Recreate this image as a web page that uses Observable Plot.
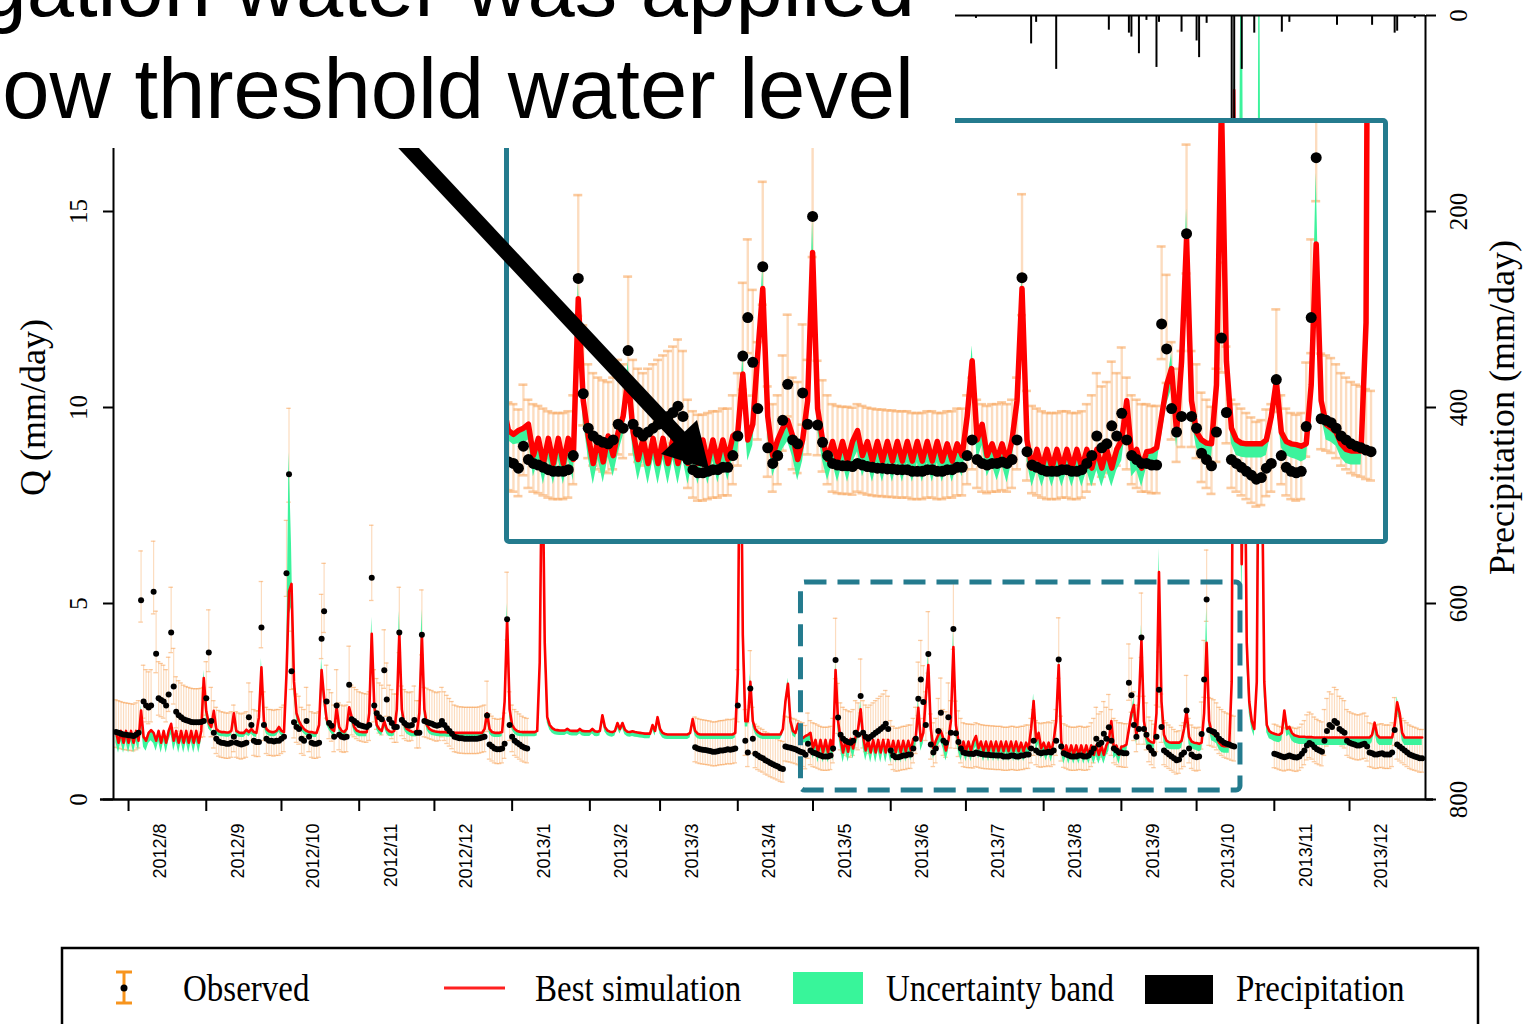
<!DOCTYPE html>
<html><head><meta charset="utf-8">
<script src="https://cdn.jsdelivr.net/npm/d3@7"></script>
<script src="https://cdn.jsdelivr.net/npm/@observablehq/plot@0.6"></script>
<style>
body{margin:0;width:1526px;height:1024px;overflow:hidden;position:relative;background:#fff}
#main{position:absolute;left:0;top:0}
#inset{position:absolute;left:504px;top:118px;width:884px;height:426px;border:5px solid #247b8e;border-radius:5px;box-sizing:border-box;background:#fff;overflow:hidden}
#inset svg{display:block}
.ov{position:absolute;left:0;top:0;overflow:visible}
#cover{position:absolute;left:0;top:0;width:955px;height:148px;background:#fff;overflow:hidden}
</style></head><body>
<div id="main"></div>
<div id="inset"></div>
<svg class="ov" width="1526" height="1024">
  <line x1="388" y1="126" x2="684" y2="442" stroke="#000" stroke-width="15"/>
  <polygon points="709,469 661,454 697,420" fill="#000"/>
</svg>
<div id="cover">
  <svg width="955" height="148">
    <text x="915" y="16" text-anchor="end" font-family="Liberation Sans, Arial, sans-serif" font-size="85" fill="#000">gation water was applied</text>
    <text x="914" y="118" text-anchor="end" font-family="Liberation Sans, Arial, sans-serif" font-size="85" fill="#000">ow threshold water level</text>
  </svg>
</div>
<svg class="ov" style="top:930px" width="1526" height="94">
  <rect x="62" y="18" width="1416" height="130" fill="#fff" stroke="#000" stroke-width="2.5"/>
  <g stroke="#f7941d" stroke-width="3">
    <line x1="124" y1="42" x2="124" y2="73"/><line x1="116" y1="42" x2="132" y2="42"/><line x1="116" y1="73" x2="132" y2="73"/>
  </g>
  <circle cx="124" cy="58" r="3.5" fill="#000"/>
  <line x1="444" y1="58" x2="505" y2="58" stroke="#ff2020" stroke-width="3"/>
  <rect x="793" y="42" width="70" height="32" fill="#38f59a"/>
  <rect x="1145" y="45" width="68" height="29" fill="#000"/>
  <g font-family="Liberation Serif, Times New Roman, serif" font-size="33" fill="#000">
    <text transform="translate(183,71) scale(1,1.18)">Observed</text>
    <text transform="translate(535,71) scale(1,1.18)">Best simulation</text>
    <text transform="translate(886,71) scale(1,1.18)">Uncertainty band</text>
    <text transform="translate(1236,71) scale(1,1.18)">Precipitation</text>
  </g>
</svg>
<script>
// ---------------- DATA (daily, starting 2012-07-27) ----------------
const startDate = "2012-07-27";

// Best simulation Q (mm/day)
const simulated = [
1.72,1.45,1.75,1.45,1.75,
1.45,1.75,1.45,1.75,1.5,2.27,1.6,1.5,1.7,1.77,1.7,1.5,1.75,1.45,1.75,1.45,1.75,1.93,1.5,1.75,1.45,1.75,1.45,1.75,1.45,1.75,1.45,1.75,1.45,1.75,3.1,
2.25,1.95,1.85,2.26,1.8,1.74,1.72,1.72,1.71,1.71,1.75,2.2,1.75,1.71,1.7,1.7,1.78,1.72,1.8,1.72,1.7,2.1,3.37,2.0,1.8,1.74,1.72,1.72,1.75,1.85,
1.75,1.72,3.2,5.3,5.5,3.0,2.2,2.0,1.88,1.8,1.75,1.72,1.72,1.7,1.7,1.9,3.3,2.6,2.05,1.9,1.8,1.75,2.35,1.85,1.75,1.72,1.8,2.35,2.1,1.85,1.76,
1.73,1.72,1.72,1.72,2.2,4.23,2.4,1.9,1.8,1.75,2.0,1.8,1.74,1.72,1.75,2.3,4.25,2.3,1.9,1.8,1.76,1.73,1.72,1.72,2.2,4.2,2.3,1.9,1.8,1.76,
1.74,1.73,1.72,1.72,1.72,1.71,1.71,1.71,1.7,1.7,1.7,1.7,1.7,1.7,1.7,1.7,1.7,1.7,1.7,1.7,1.8,2.2,1.8,1.72,1.7,1.7,1.7,1.72,2.5,4.6,2.3,
1.9,1.8,1.75,1.73,1.72,1.72,1.72,1.72,1.72,1.72,1.75,3.5,9.5,4.0,2.1,1.9,1.82,1.78,1.77,1.76,1.76,1.76,1.8,1.76,1.75,1.75,1.75,1.8,1.75,1.74,1.74,
1.74,1.8,1.74,1.73,1.75,2.15,1.85,1.76,1.73,1.72,1.75,1.95,1.8,1.95,1.78,1.73,1.72,1.74,1.72,1.71,1.7,1.69,1.68,1.68,1.68,1.9,1.75,2.1,
1.8,1.7,1.67,1.66,1.66,1.66,1.66,1.66,1.66,1.66,1.66,1.66,1.7,2.05,1.75,1.68,1.66,1.66,1.66,1.66,1.66,1.66,1.66,1.66,1.66,1.66,1.66,1.66,1.66,1.66,1.7,
3.2,11.5,4.2,2.0,2.0,3.0,2.0,1.8,1.72,1.68,1.66,1.66,1.66,1.66,1.66,1.66,1.66,1.66,1.8,2.5,2.95,2.0,1.75,1.7,1.93,1.62,1.57,1.62,1.65,1.7,
1.3,1.52,1.2,1.52,1.2,1.52,1.2,1.52,1.25,3.3,2.0,1.55,1.2,1.52,1.22,1.55,1.3,1.6,1.8,2.3,1.6,1.25,1.52,1.2,1.52,1.2,1.52,1.2,1.52,1.2,1.52,
1.2,1.5,1.2,1.5,1.2,1.5,1.22,1.5,1.25,1.55,1.6,2.34,1.5,1.7,2.6,3.43,1.8,1.3,1.5,1.65,1.75,1.55,1.25,1.5,2.0,3.89,1.9,1.5,1.25,1.48,
1.23,1.48,1.23,1.48,1.62,1.3,1.48,1.23,1.48,1.23,1.48,1.23,1.48,1.23,1.48,1.23,1.48,1.23,1.48,1.23,1.48,1.23,1.45,1.23,1.45,1.3,1.8,2.51,1.5,1.7,1.3,
1.45,1.25,1.45,1.22,1.5,2.0,3.43,1.5,1.14,1.38,1.14,1.38,1.14,1.38,1.14,1.38,1.14,1.38,1.14,1.38,1.14,1.38,1.14,1.38,1.14,1.38,1.5,2.0,1.3,1.38,1.14,
1.35,1.36,1.4,1.8,2.2,2.41,1.6,2.5,4.07,2.0,1.6,1.5,1.46,1.45,2.2,5.8,2.5,1.65,1.5,1.46,1.45,1.45,1.45,1.45,1.5,1.8,2.25,1.6,1.48,1.45,
1.44,1.42,1.45,2.2,4.0,2.0,1.7,1.65,1.6,1.45,1.38,1.36,1.36,1.36,3.0,18.1,9,14,6,11,4,2.5,2.0,1.8,3.0,12,9,3.0,1.9,1.75,1.7,
1.68,1.66,1.65,1.7,2.27,1.8,1.85,1.7,1.64,1.62,1.6,1.6,1.6,1.59,1.59,1.59,1.58,1.58,1.58,1.58,1.58,1.58,1.58,1.58,1.58,1.58,1.58,1.58,1.58,1.58,
1.58,1.58,1.58,1.58,1.58,1.58,1.58,1.58,1.58,1.65,1.96,1.65,1.58,1.58,1.58,1.58,1.58,1.58,1.9,2.48,2.2,1.7,1.58,1.58,1.58,1.58,1.58,1.58,1.58,1.58
];

// Lower edge of the uncertainty band
const bandLower = [
1.45,1.18,1.48,1.18,1.48,
1.18,1.48,1.18,1.48,1.23,1.9,1.33,1.23,1.43,1.5,1.43,1.23,1.48,1.18,1.48,1.18,1.48,1.66,1.23,1.48,1.18,1.48,1.18,1.48,1.18,1.48,1.18,1.48,1.18,1.48,2.8,
2.05,1.8,1.72,2.05,1.67,1.62,1.6,1.6,1.59,1.59,1.62,2.0,1.62,1.59,1.58,1.58,1.65,1.6,1.67,1.6,1.58,1.95,3.0,1.85,1.67,1.62,1.6,1.6,1.62,1.72,
1.62,1.6,2.9,4.7,4.9,2.7,2.05,1.87,1.75,1.68,1.62,1.6,1.6,1.58,1.58,1.77,3.0,2.4,1.9,1.77,1.67,1.62,2.15,1.72,1.62,1.6,1.67,2.15,1.95,1.72,1.63,
1.6,1.6,1.6,1.6,2.02,3.85,2.2,1.77,1.67,1.62,1.85,1.67,1.61,1.6,1.62,2.1,3.9,2.1,1.77,1.67,1.63,1.6,1.6,1.6,2.02,3.85,2.1,1.77,1.67,1.63,
1.62,1.61,1.6,1.6,1.6,1.59,1.59,1.59,1.58,1.58,1.58,1.58,1.58,1.58,1.58,1.58,1.58,1.58,1.58,1.58,1.67,2.02,1.67,1.6,1.58,1.58,1.58,1.6,2.3,4.2,2.1,
1.77,1.67,1.62,1.61,1.6,1.6,1.6,1.6,1.6,1.6,1.62,3.2,8.5,3.7,1.95,1.77,1.69,1.65,1.64,1.63,1.63,1.63,1.67,1.63,1.62,1.62,1.62,1.67,1.62,1.61,1.61,
1.61,1.67,1.61,1.6,1.62,2.0,1.72,1.63,1.6,1.59,1.62,1.82,1.67,1.82,1.65,1.6,1.59,1.61,1.59,1.58,1.57,1.56,1.55,1.55,1.55,1.77,1.62,1.95,
1.67,1.57,1.54,1.53,1.53,1.53,1.53,1.53,1.53,1.53,1.53,1.53,1.57,1.9,1.62,1.55,1.53,1.53,1.53,1.53,1.53,1.53,1.53,1.53,1.53,1.53,1.53,1.53,1.53,1.53,1.57,
2.9,10,3.8,1.85,1.85,2.75,1.85,1.67,1.59,1.55,1.53,1.53,1.53,1.53,1.53,1.53,1.53,1.53,1.67,2.3,2.75,1.85,1.62,1.57,1.8,1.49,1.44,1.45,1.45,1.5,
1.03,1.25,0.93,1.25,0.93,1.25,0.93,1.25,0.98,3.0,1.75,1.28,0.93,1.25,0.95,1.28,1.03,1.33,1.55,2.05,1.33,0.98,1.25,0.93,1.25,0.93,1.25,0.93,1.25,0.93,1.25,
0.93,1.23,0.93,1.23,0.93,1.23,0.95,1.23,0.98,1.28,1.33,2.05,1.23,1.43,2.3,3.1,1.53,1.03,1.23,1.38,1.48,1.28,0.98,1.23,1.73,3.5,1.63,1.23,0.98,1.21,
0.96,1.21,0.96,1.21,1.35,1.03,1.21,0.96,1.21,0.96,1.21,0.96,1.21,0.96,1.21,0.96,1.21,0.96,1.21,0.96,1.21,0.96,1.18,0.96,1.18,1.03,1.53,2.25,1.23,1.43,1.03,
1.18,0.98,1.18,0.95,1.23,1.73,3.1,1.23,0.9,1.11,0.9,1.11,0.9,1.11,0.9,1.11,0.9,1.11,0.9,1.11,0.9,1.11,0.9,1.11,0.9,1.11,1.23,1.73,1.03,1.11,0.9,
1.15,1.15,1.2,1.55,1.95,2.15,1.4,2.2,3.7,1.75,1.4,1.3,1.28,1.27,1.95,5.2,2.2,1.45,1.3,1.28,1.27,1.27,1.27,1.27,1.3,1.6,2.0,1.4,1.3,1.27,
1.25,1.22,1.25,1.95,3.6,1.8,1.5,1.47,1.42,1.27,1.2,1.18,1.18,1.18,2.6,14,7,11,5,9,3.5,2.2,1.8,1.6,2.7,10,7.5,2.6,1.7,1.55,1.52,
1.48,1.46,1.45,1.5,2.05,1.6,1.65,1.5,1.44,1.42,1.4,1.4,1.4,1.39,1.39,1.39,1.38,1.38,1.38,1.38,1.38,1.38,1.38,1.38,1.38,1.38,1.38,1.38,1.38,1.38,
1.38,1.38,1.38,1.38,1.38,1.38,1.38,1.38,1.38,1.45,1.75,1.45,1.38,1.38,1.38,1.38,1.38,1.38,1.7,2.25,2.0,1.5,1.38,1.38,1.38,1.38,1.38,1.38,1.38,1.38
];

// Upper edge of the uncertainty band where it rises above the best simulation
const bandPeakDates = ["2012-08-06","2012-08-31","2012-09-23","2012-10-04","2012-10-05","2012-10-17","2012-11-06","2012-11-17","2012-11-26","2012-12-30",
  "2013-01-13","2013-04-02","2013-04-06","2013-04-21","2013-05-10","2013-05-20","2013-06-12","2013-06-16","2013-06-26","2013-07-28","2013-08-07",
  "2013-09-06","2013-09-09","2013-09-16","2013-10-05","2013-10-16","2013-10-19","2013-10-26","2013-12-20"];
const bandPeakValues = [2.4,3.3,3.6,8.85,6.5,3.6,4.65,4.8,4.85,5.0,
  10.5,12.5,3.2,3.1,3.5,2.5,2.55,3.7,4.3,2.7,3.6,
  2.6,4.45,6.4,4.9,19,25,25,2.62];

// Observed Q (mm/day); null = no observation
const observed = [
1.72,1.7,1.68,1.66,1.65,
1.64,1.63,1.62,1.65,1.7,5.08,2.5,2.4,2.35,2.4,5.3,3.72,2.58,2.54,2.5,2.4,2.68,4.26,2.88,2.24,2.15,2.1,2.05,2.02,2.0,1.98,1.97,1.97,1.97,1.98,2.0,
2.58,3.75,2.0,1.7,1.55,1.48,1.45,1.44,1.42,1.42,1.45,1.6,1.45,1.42,1.4,1.42,1.45,2.1,1.9,1.5,1.47,1.47,4.39,1.9,1.55,1.5,1.5,1.48,1.5,1.5,
1.55,1.6,5.77,8.3,3.27,1.97,1.85,1.8,1.55,1.5,2.0,1.6,1.45,1.42,1.42,1.45,4.1,4.8,2.5,1.95,1.88,1.6,2.4,1.65,1.6,1.58,1.6,2.93,2.05,2.0,1.95,
1.9,1.88,1.86,1.85,1.9,5.66,2.4,2.2,2.1,2.05,3.3,2.55,2.05,1.95,1.85,1.85,4.26,2.03,1.95,1.9,1.88,1.9,2.03,1.7,1.7,4.2,2.0,1.98,1.95,1.93,
1.9,1.88,1.9,2.0,1.9,1.82,1.75,1.68,1.6,1.58,1.56,1.56,1.55,1.55,1.55,1.55,1.55,1.55,1.56,1.58,1.6,2.14,1.4,1.35,1.3,1.28,1.28,1.3,1.42,4.6,1.9,
1.6,1.5,1.45,1.4,1.35,1.32,1.3,null,null,null,null,null,null,null,null,null,null,null,null,null,null,null,null,null,null,null,null,null,null,null,null,
null,null,null,null,null,null,null,null,null,null,null,null,null,null,null,null,null,null,null,null,null,null,null,null,null,null,null,null,
null,null,null,null,null,null,null,null,null,null,null,null,null,null,1.33,1.3,1.28,1.27,1.26,1.25,1.24,1.22,1.22,1.23,1.25,1.25,1.26,1.28,1.27,1.28,1.3,
2.4,null,null,1.5,1.2,2.83,1.55,1.17,1.12,1.08,1.05,1.0,0.97,0.93,0.9,0.87,0.84,0.8,0.78,1.35,1.33,1.32,1.3,1.28,1.25,1.22,1.2,1.14,1.42,1.25,
1.2,1.18,1.15,1.12,1.1,1.1,1.1,1.12,1.3,3.56,2.09,1.65,1.55,1.5,1.47,1.45,1.5,1.7,1.65,2.64,1.7,1.6,1.55,1.6,1.65,1.7,1.75,1.8,1.85,1.93,1.8,
1.25,1.12,1.08,1.08,1.1,1.12,1.12,1.15,1.15,1.3,1.55,2.57,3.06,2.49,1.9,3.71,1.4,1.2,1.3,1.75,2.21,1.5,1.45,2.1,1.7,4.35,1.69,1.47,1.3,1.2,
1.18,1.17,1.17,1.16,1.2,1.18,1.16,1.15,1.14,1.14,1.13,1.13,1.12,1.12,1.12,1.1,1.1,1.1,1.12,1.12,1.1,1.1,1.12,1.12,1.15,1.15,1.3,1.5,1.25,1.2,1.18,
1.2,1.2,1.22,1.2,1.25,1.5,3.57,1.35,1.18,1.15,1.12,1.1,1.1,1.1,1.12,1.12,1.1,1.1,1.12,1.2,1.3,1.55,1.4,1.45,1.68,1.55,1.84,1.5,1.3,1.25,1.2,
1.2,1.18,1.18,2.98,2.66,1.9,1.6,1.8,4.13,1.8,1.65,1.33,1.25,1.17,1.6,2.8,1.85,1.25,1.2,1.15,1.1,1.05,1.0,1.02,1.14,1.2,2.27,1.3,1.15,1.1,
1.08,1.1,1.67,3.06,5.1,1.77,1.75,1.72,1.65,1.55,1.5,1.45,1.42,1.4,1.37,1.35,null,null,null,null,null,null,null,null,null,null,null,null,null,null,null,
1.17,1.15,1.12,1.1,1.08,1.1,1.12,1.1,1.08,1.07,1.1,1.17,1.25,1.38,1.44,1.4,1.33,1.28,1.25,1.22,1.5,1.75,1.9,1.85,2.0,1.95,1.8,1.75,1.7,1.5,
1.45,1.42,1.4,1.38,1.38,1.4,1.42,1.35,1.2,1.18,1.15,1.15,1.17,1.18,1.15,1.15,1.15,1.2,1.77,1.4,1.35,1.3,1.25,1.2,1.15,1.12,1.1,1.08,1.05,1.05
];

// Observation uncertainty (rating curve): upper = obs*a+b, lower = obs*c-d
const obsErrUp = [1.13, 0.6];
const obsErrDown = [0.95, 0.3];

// Precipitation (mm/day), visible bars
const precipDates = ["2013-07-05","2013-07-27","2013-07-29","2013-08-06","2013-08-27","2013-09-04","2013-09-05","2013-09-08","2013-09-11",
  "2013-09-15","2013-09-16","2013-09-25","2013-10-01","2013-10-02","2013-10-05","2013-10-15","2013-10-16","2013-10-19","2013-10-24",
  "2013-11-04","2013-11-07","2013-11-26","2013-12-10","2013-12-19","2013-12-20","2013-12-27"];
const precipMm = [3,29,7,55,15,18,22,39,5,53,7,17,26,43,8,160,130,55,18,17,7,10,10,18,16,3];

const monthLabels = ["2012/8","2012/9","2012/10","2012/11","2012/12","2013/1","2013/2","2013/3","2013/4","2013/5","2013/6","2013/7","2013/8","2013/9","2013/10","2013/11","2013/12"];
const qTicks = [0, 5, 10, 15];
const pTicks = [0, 200, 400, 600, 800];
const qMax = 20, pMax = 800;
const zoomWindow = {from: "2013-04-26T05:00:00Z", to: "2013-10-18T12:00:00Z", qLow: 0.23, qHigh: 5.536};

// ---------------- BUILD ----------------
const DAY = 864e5;
const t0 = Date.parse(startDate + "T00:00:00Z");
const dateAt = i => new Date(t0 + i * DAY);
const idx = s => Math.round((Date.parse(s + "T00:00:00Z") - t0) / DAY);
if (simulated.length !== 522 || bandLower.length !== 522 || observed.length !== 522)
  console.error("length mismatch", simulated.length, bandLower.length, observed.length);

const peak = new Map(bandPeakDates.map((s, k) => [idx(s), bandPeakValues[k]]));
const days = simulated.map((v, i) => ({date: dateAt(i), sim: v, lo: bandLower[i] ?? v, hi: Math.max(v, peak.get(i) ?? v)}));
const obsRows = observed.map((v, i) => ({date: dateAt(i), obs: v})).filter(d => d.obs != null)
  .map(d => ({...d, eHi: d.obs * obsErrUp[0] + obsErrUp[1], eLo: Math.max(0.3, d.obs * obsErrDown[0] - obsErrDown[1])}));
const precip = precipDates.map((s, k) => ({date: new Date(s + "T00:00:00Z"), mm: precipMm[k]}));
const months = monthLabels.map(s => { const [y, m] = s.split("/").map(Number); return {label: s, start: new Date(Date.UTC(y, m - 1, 1)), mid: new Date(Date.UTC(y, m - 1, 16))}; });
const toQ = p => qMax - p * qMax / pMax;

const serif = "Liberation Serif, Times New Roman, serif";
const sans = "Liberation Sans, Arial, sans-serif";

function dataMarks(k, r, w) {
  const c1 = d => new Date(+d.date - 0.9 * DAY), c2 = d => new Date(+d.date + 0.9 * DAY);
  return [
    Plot.ruleX(obsRows, {x: "date", y1: "eLo", y2: "eHi", stroke: "#f8a860", strokeOpacity: 0.4, strokeWidth: 1.2 * k, clip: true}),
    Plot.ruleY(obsRows, {y: "eHi", x1: c1, x2: c2, stroke: "#f8a860", strokeOpacity: 0.6, strokeWidth: 1.3 * k, clip: true}),
    Plot.ruleY(obsRows, {y: "eLo", x1: c1, x2: c2, stroke: "#f8a860", strokeOpacity: 0.6, strokeWidth: 1.3 * k, clip: true}),
    Plot.areaY(days, {x: "date", y1: "lo", y2: "hi", fill: "#3cf39c", clip: true}),
    Plot.lineY(days, {x: "date", y: "sim", stroke: "#ff0000", strokeWidth: w, clip: true}),
    Plot.dot(obsRows, {x: "date", y: "obs", r, fill: "#000", stroke: "none", clip: true})
  ];
}

const main = Plot.plot({
  width: 1526, height: 930,
  marginLeft: 113, marginRight: 101, marginTop: 15, marginBottom: 131,
  x: {type: "utc", domain: [dateAt(-1), dateAt(522.3)], axis: null},
  y: {domain: [0, qMax], axis: null},
  style: {background: "transparent", overflow: "visible"},
  marks: [
    ...dataMarks(1, 3, 2.6),
    Plot.ruleX(precip, {x: "date", y1: qMax, y2: d => toQ(d.mm), stroke: "#000", strokeWidth: 2, clip: true}),
    Plot.rect([zoomWindow], {x1: d => new Date(d.from), x2: d => new Date(d.to), y1: "qLow", y2: "qHigh", fill: "none", stroke: "#247b8e", strokeWidth: 5, strokeDasharray: "22 11", rx: 4}),
    Plot.ruleX([dateAt(-1)], {stroke: "#000", strokeWidth: 2}),
    Plot.ruleX([dateAt(522.3)], {stroke: "#000", strokeWidth: 2}),
    Plot.ruleY([qMax], {stroke: "#000", strokeWidth: 2}),
    Plot.ruleY([0], {x1: dateAt(-6.2), x2: dateAt(525.5), stroke: "#000", strokeWidth: 2.5}),
    Plot.axisY(qTicks, {anchor: "left", tickSize: 10, tickFormat: () => "", strokeWidth: 2, label: null}),
    Plot.axisY(pTicks.map(toQ), {anchor: "right", tickSize: 10, tickFormat: () => "", strokeWidth: 2, label: null}),
    Plot.axisX(months.map(m => m.start), {anchor: "bottom", tickSize: 12, tickFormat: () => "", strokeWidth: 2, label: null}),
    Plot.text(months, {x: "mid", text: "label", frameAnchor: "bottom", dy: 24, rotate: -90, textAnchor: "end", fontSize: 18, fontFamily: sans, fill: "#000"}),
    Plot.text(qTicks, {y: d => d, text: d => String(d), frameAnchor: "left", dx: -35, rotate: -90, textAnchor: "middle", fontSize: 25, fontFamily: serif, fill: "#000"}),
    Plot.text(pTicks, {y: d => toQ(d), text: d => String(d), frameAnchor: "right", dx: 33, rotate: -90, textAnchor: "middle", fontSize: 25, fontFamily: serif, fill: "#000"}),
    Plot.text(["Q (mm/day)"], {text: d => d, frameAnchor: "left", dx: -80, rotate: -90, textAnchor: "middle", fontSize: 36, fontFamily: serif, fill: "#000"}),
    Plot.text(["Precipitation (mm/day)"], {text: d => d, frameAnchor: "right", dx: 77, rotate: -90, textAnchor: "middle", fontSize: 36, fontFamily: serif, fill: "#000"})
  ]
});
document.getElementById("main").append(main);

const inset = Plot.plot({
  width: 874, height: 416, margin: 0,
  x: {type: "utc", domain: [new Date(zoomWindow.from), new Date(zoomWindow.to)], axis: null},
  y: {domain: [zoomWindow.qLow, zoomWindow.qHigh], axis: null},
  style: {background: "#fff"},
  marks: dataMarks(2, 5.5, 5.5)
});
document.getElementById("inset").append(inset);
</script>
</body></html>
